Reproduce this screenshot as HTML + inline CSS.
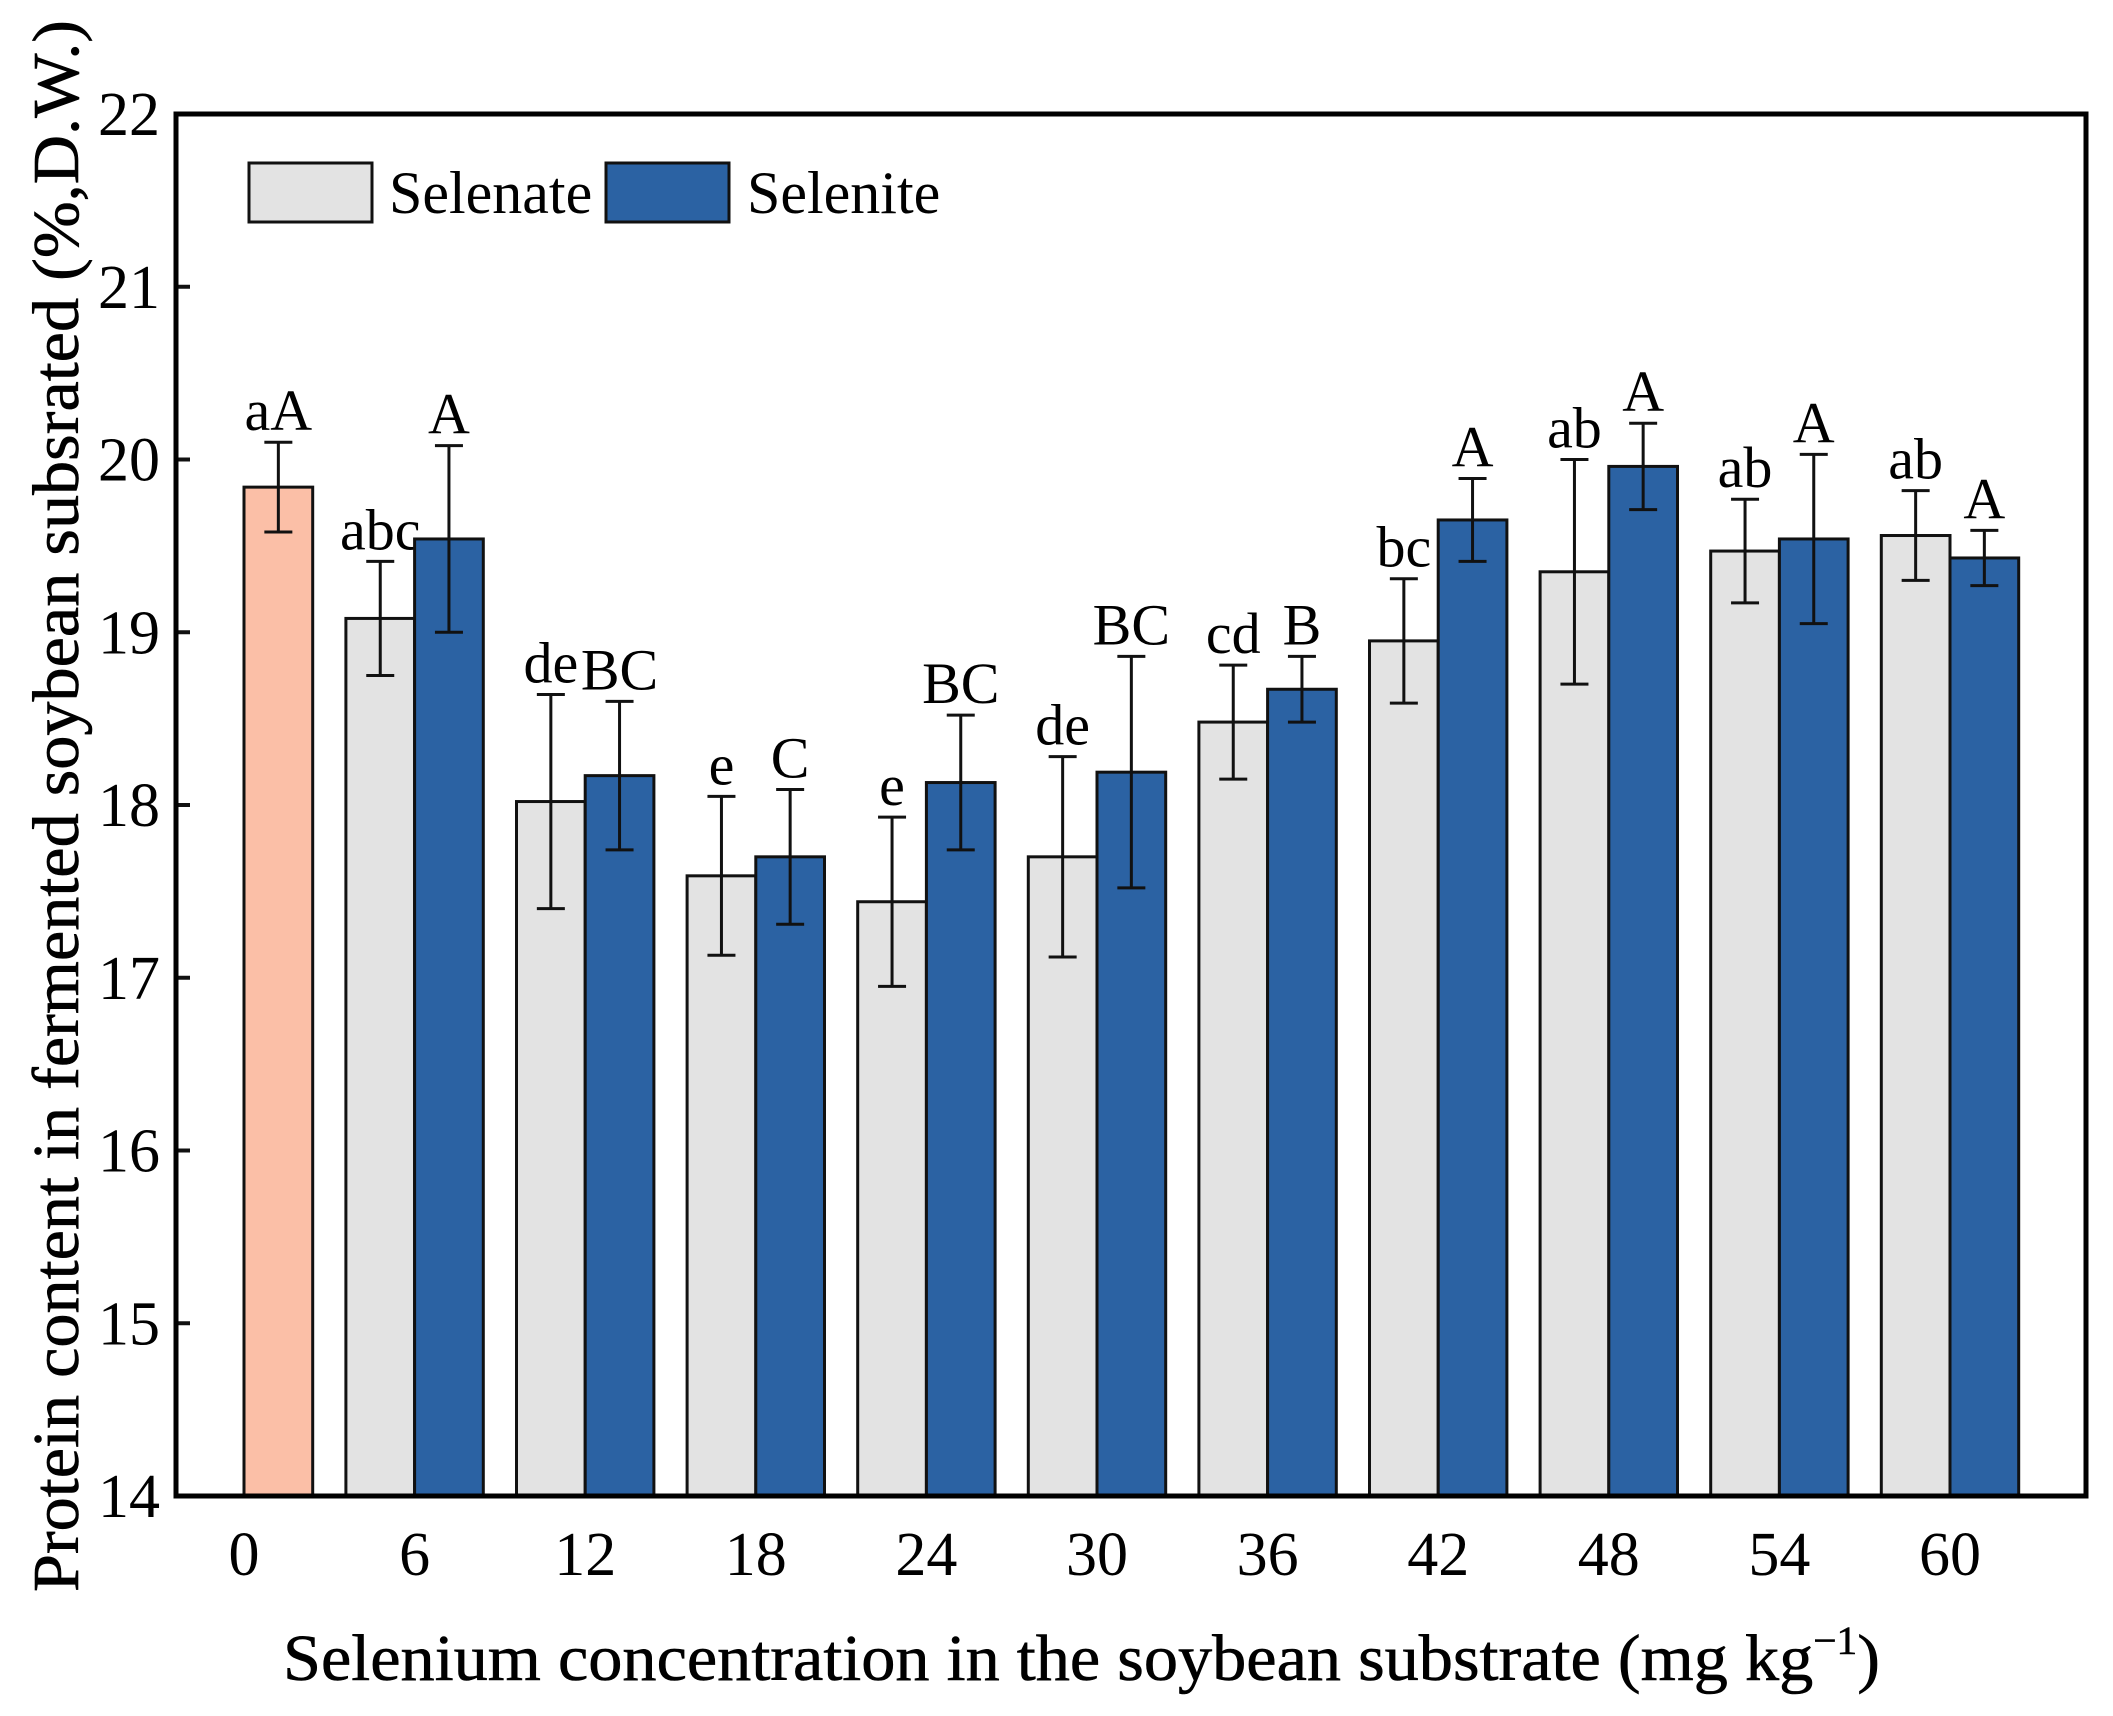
<!DOCTYPE html>
<html><head><meta charset="utf-8"><style>html,body{margin:0;padding:0;background:#fff}svg{display:block}</style></head>
<body>
<svg id="chart" width="2113" height="1716" xmlns="http://www.w3.org/2000/svg" font-family="Liberation Serif, serif">
<g id="plot"></g>
<g>
 <rect x="249" y="163" width="123" height="59" fill="#e3e3e3" stroke="#111" stroke-width="3"/>
 <text x="389" y="213" font-size="60">Selenate</text>
 <rect x="606" y="163" width="123" height="59" fill="#2b62a3" stroke="#111" stroke-width="3"/>
 <text x="747" y="213" font-size="60">Selenite</text>
</g>
<text x="283" y="1680" font-size="66" stroke="#000" stroke-width="0.6" textLength="1597" lengthAdjust="spacingAndGlyphs">Selenium concentration in the soybean substrate (mg kg<tspan dy="-26" font-size="40">−1</tspan><tspan dy="26">)</tspan></text>
<text transform="translate(78,1592) rotate(-90)" x="0" y="0" font-size="66" stroke="#000" stroke-width="0.6" textLength="1572" lengthAdjust="spacingAndGlyphs">Protein content in fermented soybean subsrated (%,D.W.)</text>
</svg>
<script>
const categories=["0","6","12","18","24","30","36","42","48","54","60"];
const selenate=[null,19.08,18.02,17.59,17.44,17.70,18.48,18.95,19.35,19.47,19.56];
const selenateErr=[null,0.33,0.62,0.46,0.49,0.58,0.33,0.36,0.65,0.30,0.26];
const selenite=[19.84,19.54,18.17,17.70,18.13,18.19,18.67,19.65,19.96,19.54,19.43];
const seleniteErr=[0.26,0.54,0.43,0.39,0.39,0.67,0.19,0.24,0.25,0.49,0.16];
const selenateLetters=["","abc","de","e","e","de","cd","bc","ab","ab","ab"];
const seleniteLetters=["aA","A","BC","C","BC","BC","B","A","A","A","A"];
const yTicks=[14,15,16,17,18,19,20,21,22];
const L=176,R=2086,T=114,B=1496,yMin=14,yMax=22;
const NS="http://www.w3.org/2000/svg";
const g=document.getElementById('plot');
function y(v){return B-(v-yMin)/(yMax-yMin)*(B-T);}
function x(i){return 244+i*170.6;}
const bw=68.7;
function mk(t,a){const e=document.createElementNS(NS,t);for(const k in a)e.setAttribute(k,a[k]);g.appendChild(e);return e;}
function bar(x0,v,err,fill,name,letter){
 const r=mk('rect',{x:x0,y:y(v),width:bw,height:B-y(v),fill:fill,stroke:'#111','stroke-width':3});
 
 
 const cx=x0+bw/2,t=y(v+err),b=y(v-err);
 const eb=mk('path',{d:`M${cx},${t}V${b}M${cx-14},${t}H${cx+14}M${cx-14},${b}H${cx+14}`,stroke:'#111','stroke-width':3,fill:'none'});
 
 
 if(letter){const tx=mk('text',{x:cx,y:t-12,'text-anchor':'middle','font-size':58});tx.textContent=letter;
 
 }
}
categories.forEach((c,i)=>{
 if(selenate[i]!==null) bar(x(i)-bw,selenate[i],selenateErr[i],'#e3e3e3','bar-selenate-'+c,selenateLetters[i]);
 bar(x(i),selenite[i],seleniteErr[i],i===0?'#fbbfa7':'#2b62a3',(i===0?'bar-control-':'bar-selenite-')+c,seleniteLetters[i]);
 const t=mk('text',{x:x(i),y:1575,'text-anchor':'middle','font-size':62});t.textContent=c;
 
 
});
yTicks.forEach(v=>{
 const tk=mk('line',{x1:L,x2:L+14,y1:y(v),y2:y(v),stroke:'#111','stroke-width':4});
 
 
 const t=mk('text',{x:160,y:y(v)+21,'text-anchor':'end','font-size':62});t.textContent=v;
 
 
});
const f=mk('rect',{x:L,y:T,width:R-L,height:B-T,fill:'none',stroke:'#000','stroke-width':5});


</script>
</body></html>
